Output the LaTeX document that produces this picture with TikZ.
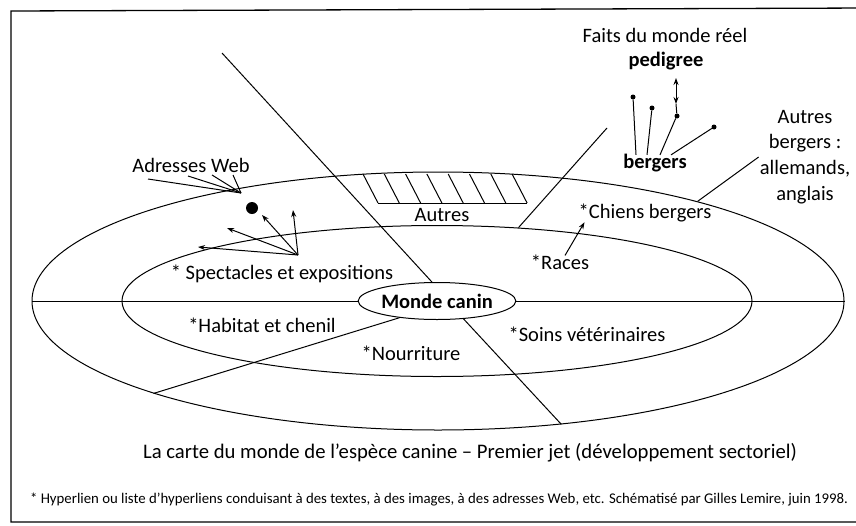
\documentclass[tikz,border=0pt]{standalone}
\usepackage{fontspec}
\setmainfont{Carlito}
\usetikzlibrary{arrows.meta, calc, positioning, shapes.geometric}

\begin{document}
\begin{tikzpicture}[x=1pt,y=-1pt,
		txt/.style={inner sep=1pt, font=\fontsize{20.5}{24}\selectfont},
		gras/.style={txt, font=\fontsize{20.5}{24}\selectfont\bfseries},
		trait/.style={line width=1pt},
		fleche/.style={-{Stealth[length=7pt,width=5pt]}},
		pastille/.style={circle, fill, inner sep=0pt, minimum size=5pt}]
		\useasboundingbox (0,0) rectangle (856,525);
		\draw[line width=1.3pt] (870,8) -- (11,11) -- (11,522) -- (870,522); %cadre
		% ellipses
		\node[ellipse, draw, trait, minimum width=812, minimum height=258, inner sep=0pt] (ext) at (438,301) {};
		\node[ellipse, draw, trait, minimum width=630, minimum height=151, inner sep=0pt] (int) at (437,301) {};
		\node[ellipse, draw, trait, minimum width=152, minimum height=37, inner sep=0pt, font=\fontsize{20.5}{24}\selectfont\bfseries] (mc) at (437,301) {Monde canin};
		% secteurs
		\coordinate (hg) at (222,53);
		\coordinate (hd) at (607,128);
		\draw[trait] (ext.west) -- (mc.west);
		\draw[trait] (mc.east) -- (ext.east);
		\draw[trait] (hg) -- (mc.105);
		\draw[trait] (mc.204) -- (ext.198);
		\draw[trait] (mc.326) -- (ext.315.5);
		\draw[trait] (int.42) -- (hd);
		% zone hachuree
		\draw[trait] (378,203) -- (527,203);
		\foreach \i in {0,...,7}
			\draw[trait] ({363+21.3*\i},174) -- ++(15,29);
		\node[txt] (autres) at (442,215) {Autres};
		% textes
		\node[txt] (adr) at (191,165) {Adresses Web};
		\node[txt] (spec) at (282,274) {* Spectacles et expositions};
		\node[txt] (hab) at (262,325) {*Habitat et chenil};
		\node[txt] (nour) at (411,353) {*Nourriture};
		\node[txt] (soins) at (587,334) {*Soins vétérinaires};
		\node[txt] (races) at (560,262) {*Races};
		\node[txt] (cb) at (645,213) {*Chiens bergers};
		\node[gras] (bg) at (655,163) {bergers};
		\node[txt] (faits) at (665,35) {Faits du monde réel};
		\node[gras] (pg) at (666,61) {pedigree};
		\node[txt, align=center, font=\fontsize{20.5}{25.7}\selectfont] (ab) at (805,157) {Autres\\bergers :\\allemands,\\anglais};
		\node[txt, font=\fontsize{20.7}{24}\selectfont] (titre) at (470,453) {La carte du monde de l'espèce canine -- Premier jet (développement sectoriel)};
		\node[txt, font=\fontsize{14.8}{17}\selectfont] (note) at (439,500) {* Hyperlien ou liste d'hyperliens conduisant à des textes, à des images, à des adresses Web, etc. Schématisé par Gilles Lemire, juin 1998.};
		% adresses web
		\coordinate (cv) at (241,193);
		\foreach \x/\y in {148/179, 188/176, 212/175, 233/175}
			\draw[trait] (\x,\y) -- (cv);
		\node[pastille, minimum size=12pt] (web) at (252,208) {};
		\coordinate (sp) at (298,255);
		\foreach \x/\y in {198/247, 227/228, 262/215, 293/210}
			\draw[trait, fleche] (sp) -- (\x,\y);
		% races et bergers
		\draw[trait, fleche] ($(races.north)+(5,2)$) -- ($(cb.south west)+(7,-1)$);
		\draw[trait] (ext.21) -- (ab.west);
		\node[pastille] (d1) at (633,97) {};
		\node[pastille] (d2) at (652,108) {};
		\node[pastille] (d3) at (677,116) {};
		\node[pastille] (d4) at (714,127) {};
		\draw[trait] (d1) -- ($(bg.north)+(-19,2)$);
		\draw[trait] (d2) -- ($(bg.north)+(-8,2)$);
		\draw[trait] (d3) -- (675,120) -- ($(bg.north)+(5,2)$);
		\draw[trait] (d4) -- ($(bg.north)+(16,2)$);
		\coordinate (fa) at (676,78);
		\coordinate (fb) at (676,104);
		\draw[trait, {Stealth[length=7pt,width=5pt]}-{Stealth[length=7pt,width=5pt]}] (fa) -- (fb);
		\draw[trait] (fb) -- (d3);
\end{tikzpicture}
\end{document}
